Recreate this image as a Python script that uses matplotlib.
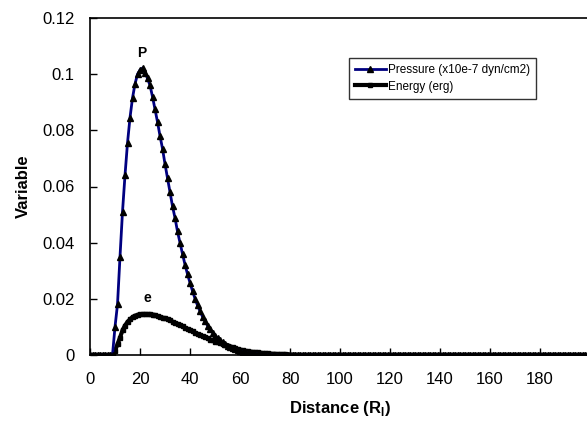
import matplotlib
matplotlib.use('Agg')
import matplotlib.pyplot as plt
import numpy as np

plt.rcParams['font.family'] = ['Liberation Sans', 'DejaVu Sans']

# distance grid (R_I), one sample per unit
distance = np.arange(0, 201)

# pressure (x10e-7 dyn/cm2) for x = 0..80, zero afterwards
pressure_head = [
    0, 0, 0, 0, 0, 0, 0, 0, 0, 0.0,
    0.010, 0.018, 0.035, 0.051, 0.064, 0.0755, 0.0845, 0.0915, 0.0965, 0.1000,
    0.1015, 0.1022, 0.1005, 0.0985, 0.0960, 0.0920, 0.0875, 0.0830, 0.0780, 0.0735,
    0.0680, 0.0630, 0.0580, 0.0530, 0.0488, 0.0440, 0.0400, 0.0360, 0.0322, 0.0288,
    0.0257, 0.0228, 0.0201, 0.0177, 0.0156, 0.0137, 0.0120, 0.0105, 0.0092, 0.0080,
    0.0069, 0.0060, 0.0052, 0.0045, 0.0038, 0.0033, 0.0028, 0.0024, 0.0020, 0.0017,
    0.0014, 0.0012, 0.0010, 0.0008, 0.0007, 0.0006, 0.0005, 0.0004, 0.0003, 0.00025,
    0.0002, 0.00015, 0.0001, 0.00008, 0.00006, 0.00005, 0.00004, 0.00003, 0.00002, 0.00001,
]
# energy (erg)
energy_head = [
    0, 0, 0, 0, 0, 0, 0, 0, 0, 0.0,
    0.0015, 0.0038, 0.0062, 0.0088, 0.0105, 0.0118, 0.0127, 0.0135, 0.0140, 0.0143,
    0.0145, 0.0146, 0.0146, 0.0146, 0.0145, 0.0144, 0.0142, 0.0139, 0.0136, 0.0133,
    0.0130, 0.0127, 0.0123, 0.0119, 0.0115, 0.0111, 0.0106, 0.0102, 0.0097, 0.0093,
    0.0088, 0.0084, 0.0080, 0.0075, 0.0071, 0.0067, 0.0063, 0.0059, 0.0055, 0.0052,
    0.0048, 0.0045, 0.0042, 0.0039, 0.0036, 0.0033, 0.0030, 0.0027, 0.0024, 0.0021,
    0.0019, 0.0017, 0.0015, 0.0013, 0.0012, 0.0011, 0.0010, 0.0009, 0.0008, 0.0007,
    0.0006, 0.0006, 0.0005, 0.0004, 0.0004, 0.0003, 0.0003, 0.0002, 0.0002, 0.0001,
    0.0001, 0.0001, 0.00005, 0.00005,
]
pressure = pressure_head + [0.0] * (len(distance) - len(pressure_head))
energy = energy_head + [0.0] * (len(distance) - len(energy_head))

xticks = [0, 20, 40, 60, 80, 100, 120, 140, 160, 180]
yticks = [0, 0.02, 0.04, 0.06, 0.08, 0.1, 0.12]
ytick_labels = ['0', '0.02', '0.04', '0.06', '0.08', '0.1', '0.12']

W, H = 587, 424
fig = plt.figure(figsize=(W / 100, H / 100), dpi=100)
# plot area runs off the right edge of the picture
ax = fig.add_axes([90 / W, (H - 355) / H, 500 / W, 337 / H])

ax.plot(distance, energy, color='black', lw=3, marker='s', ms=3.4,
        mfc='black', mec='black', label='Energy (erg)', zorder=2)
ax.plot(distance, pressure, color='#000080', lw=2, marker='^', ms=4.6,
        mfc='black', mec='black', label='Pressure (x10e-7 dyn/cm2)', zorder=3)

ax.text(20.8, 0.1075, 'P', fontsize=10, fontweight='bold', ha='center', va='center')
ax.text(22.8, 0.0203, 'e', fontsize=10, fontweight='bold', ha='center', va='center')

ax.set_xlim(0, 200)
ax.set_ylim(0, 0.12)
ax.set_xticks(xticks)
ax.set_xticklabels([str(t) for t in xticks])
ax.set_yticks(yticks)
ax.set_yticklabels(ytick_labels)
ax.tick_params(direction='in', length=5, width=1, labelsize=12)
ax.tick_params(axis='y', pad=11)
ax.tick_params(axis='x', pad=12)
ax.set_xlabel('Distance (R$_\\mathregular{I}$)', fontsize=12, fontweight='bold', labelpad=9)
ax.set_ylabel('Variable', fontsize=12, fontweight='bold', labelpad=8)
for side in ['left', 'bottom', 'top']:
    ax.spines[side].set_linewidth(1.2)
    ax.spines[side].set_color('black')
ax.spines['right'].set_visible(False)

handles, labels = ax.get_legend_handles_labels()
leg = ax.legend(handles[::-1], labels[::-1], loc='upper left',
                bbox_to_anchor=(349 / W, 1 - 58 / H), bbox_transform=fig.transFigure,
                borderaxespad=0, fontsize=8.5, frameon=True, fancybox=False,
                edgecolor='black', handlelength=2.6, handletextpad=0.2,
                borderpad=0.5, labelspacing=0.4, markerscale=0.8)
leg.get_frame().set_linewidth(1)

fig.savefig('out.png', dpi=100)
